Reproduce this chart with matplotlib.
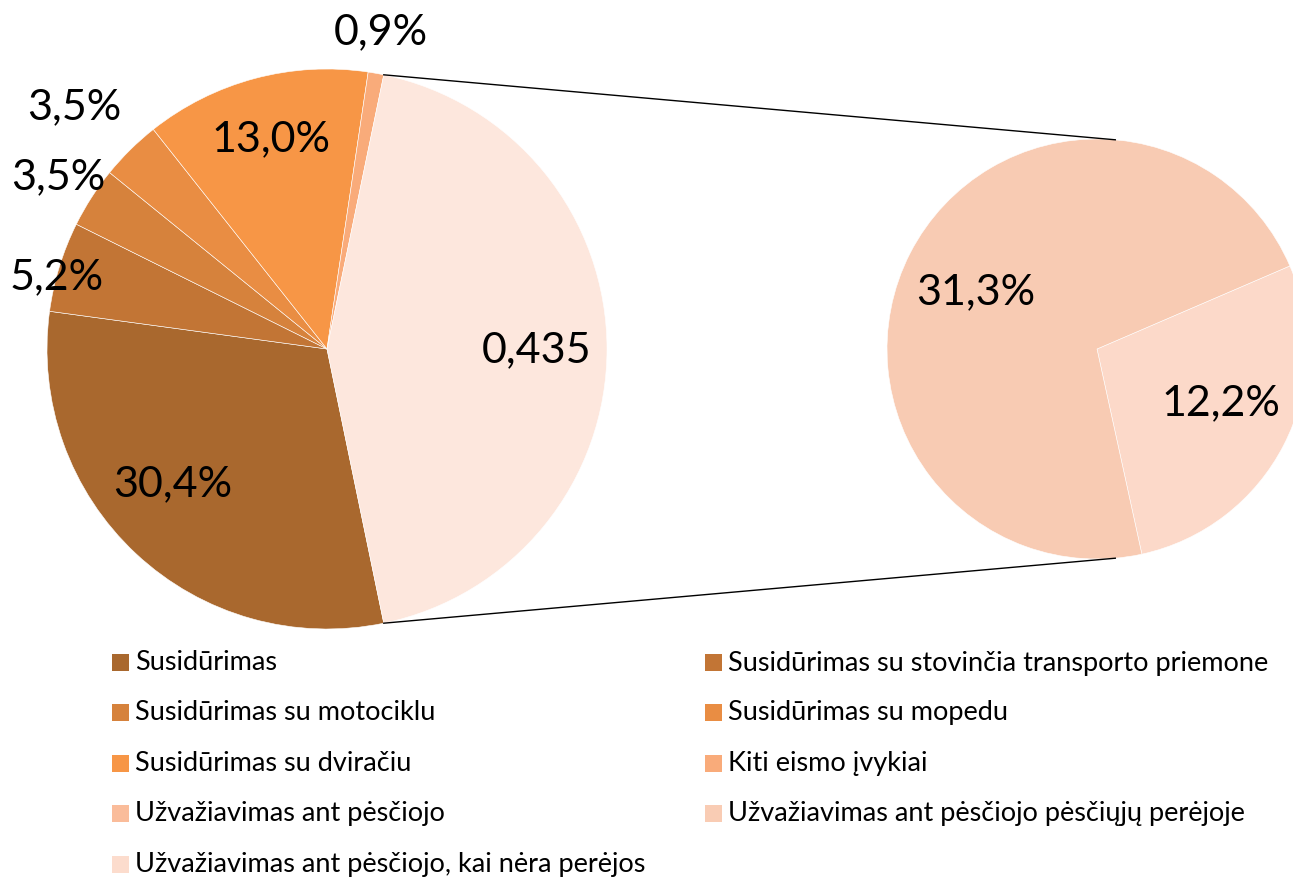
import numpy as np
import matplotlib.pyplot as plt
from matplotlib.patches import Rectangle

plt.rcParams['font.family'] = ['Lato', 'DejaVu Sans']

# pagrindinė diagrama
main_labels = ['Susidūrimas',
               'Susidūrimas su stovinčia transporto priemone',
               'Susidūrimas su motociklu',
               'Susidūrimas su mopedu',
               'Susidūrimas su dviračiu',
               'Kiti eismo įvykiai']
main_values = [30.4, 5.2, 3.5, 3.5, 13.0, 0.9]
main_text = ['30,4%', '5,2%', '3,5%', '3,5%', '13,0%', '0,9%']
other_text = '0,435'

# antrinė diagrama (užvažiavimai ant pėsčiųjų)
sub_labels = ['Užvažiavimas ant pėsčiojo pėsčiųjų perėjoje',
              'Užvažiavimas ant pėsčiojo, kai nėra perėjos']
sub_values = [31.3, 12.2]
sub_text = ['31,3%', '12,2%']

legend_labels = main_labels + ['Užvažiavimas ant pėsčiojo'] + sub_labels

main_colors = ['#A9682E', '#C27535', '#D6823C', '#E98D43', '#F79646', '#F9AB7A']
other_color = '#FDE7DD'
sub_colors = ['#F8CBB3', '#FCD9C9']
legend_colors = main_colors + ['#FABC9A', '#F9CCB4', '#FCDCCD']

W, H = 1293, 879
fig = plt.figure(figsize=(W / 100, H / 100), dpi=100)
ax = fig.add_axes([0, 0, 1, 1])

# centrai ir spinduliai pikseliais (y aukštyn)
c1, r1 = (327, H - 350), 280
c2, r2 = (1097, H - 350), 210

other_value = sum(sub_values)
vals1 = main_values + [other_value]
start1 = -other_value / 100 * 360 / 2
ax.pie(vals1, colors=main_colors + [other_color], center=c1, radius=r1,
       startangle=start1, counterclock=False, frame=True,
       wedgeprops=dict(edgecolor='white', linewidth=0.4))

# antrinė: mažesnis segmentas dešinėje
sub_share = sub_values[1] / other_value * 360
start2 = 23.3
ax.pie(sub_values[::-1], colors=sub_colors[::-1], center=c2, radius=r2,
       startangle=start2, counterclock=False, frame=True,
       wedgeprops=dict(edgecolor='white', linewidth=0.4))

# etikečių vietos: (atstumas nuo centro, kampo pataisa)
main_pos = [(0.73, -6), (1.0, 2), (1.14, 0), (1.25, 1.5), (0.78, 0), (1.15, 0.5)]
angle = start1
for v, t, (rf, da) in zip(main_values, main_text, main_pos):
    mid = angle - v / 100 * 360 / 2
    a = np.deg2rad(mid + da)
    ax.text(c1[0] + rf * r1 * np.cos(a), c1[1] + rf * r1 * np.sin(a), t,
            fontsize=31, ha='center', va='center')
    angle -= v / 100 * 360
ax.text(c1[0] + 0.75 * r1, c1[1], other_text, fontsize=31, ha='center', va='center')

sub_angles = [start2 + (360 - sub_share) / 2 + 1.7, start2 - sub_share / 2 + 4]
for t, ang in zip(sub_text, sub_angles):
    a = np.deg2rad(ang)
    ax.text(c2[0] + 0.64 * r2 * np.cos(a), c2[1] + 0.64 * r2 * np.sin(a), t,
            fontsize=31, ha='center', va='center')

# jungiamosios linijos
a1 = np.deg2rad(start1 + other_value / 100 * 360)
for s in (1, -1):
    p1 = (c1[0] + r1 * np.cos(a1), c1[1] + s * r1 * np.sin(a1))
    a2 = np.deg2rad(85)
    p2 = (c2[0] + r2 * np.cos(a2), c2[1] + s * r2 * np.sin(a2))
    ax.plot([p1[0], p2[0]], [p1[1], p2[1]], color='black', lw=1.0)

# legenda
rows = [663, 713, 764, 814, 865]
for i, (lab, col) in enumerate(zip(legend_labels, legend_colors)):
    y = H - rows[i // 2]
    x0 = 112 if i % 2 == 0 else 705
    ax.add_patch(Rectangle((x0, y - 8.5), 17, 17, facecolor=col, edgecolor='none'))
    ax.text(x0 + 23, y, lab, fontsize=19.5, ha='left', va='center')

ax.set_xlim(0, W)
ax.set_ylim(0, H)
ax.set_aspect('equal')
ax.axis('off')

fig.savefig('out.png', dpi=100)
